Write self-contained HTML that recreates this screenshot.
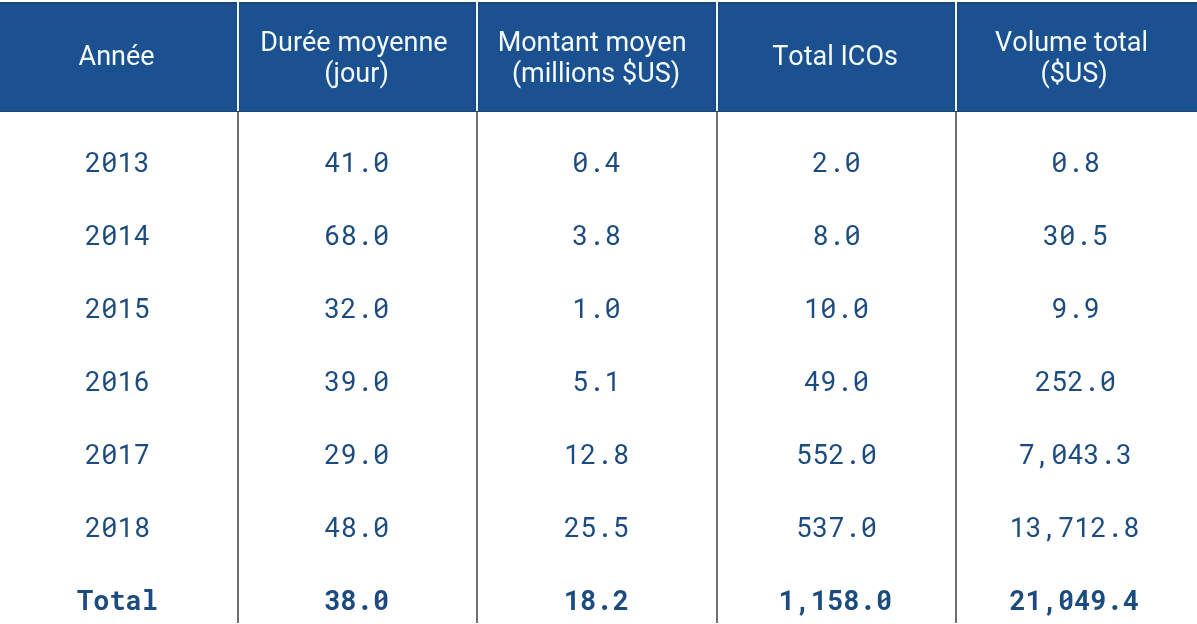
<!DOCTYPE html>
<html>
<head>
<meta charset="utf-8">
<style>
html,body{margin:0;padding:0;background:#fff;width:1197px;height:624px;overflow:hidden;}
.wrap{position:absolute;left:0;top:0;width:1197px;height:624px;background:#fff;will-change:transform;}
.hdr{position:absolute;left:0;top:2px;width:1197px;height:110px;background:#1b5190;border-top:2px solid #1c4774;border-bottom:1px solid #1c4774;box-sizing:border-box;}
.vl{position:absolute;width:2px;}
.vw{top:2px;height:109px;background:#e8faff;box-shadow:-1px 0 #204a72,1px 0 #204a72;}
.vd{top:112px;height:511px;background:#6f6f6f;}
.h{position:absolute;width:239px;height:31px;text-align:center;white-space:nowrap;font-family:"Roboto","Liberation Sans",sans-serif;font-size:27px;line-height:31px;font-kerning:none;color:#f4fbff;}
.row{position:absolute;left:0;width:1197px;height:30px;}
.c{position:absolute;top:0;width:239px;text-align:center;font-family:"Roboto Mono","Liberation Mono",monospace;font-size:27px;color:#1c4b80;line-height:30px;}
.b{font-weight:700;}
</style>
</head>
<body>
<div class="wrap">
<div class="hdr"></div>
<div class="h" style="left:-2.95px;top:41px">Année</div>
<div class="h" style="left:234.50px;top:26.5px">Durée moyenne</div>
<div class="h" style="left:237.05px;top:57.5px">(jour)</div>
<div class="h" style="left:472.60px;top:26.5px">Montant moyen</div>
<div class="h" style="left:476.50px;top:57.5px">(millions $US)</div>
<div class="h" style="left:715.55px;top:41px">Total ICOs</div>
<div class="h" style="left:952.10px;top:26.5px">Volume total</div>
<div class="h" style="left:954.60px;top:57.5px">($US)</div>

<div class="vl vw" style="left:237px"></div>
<div class="vl vw" style="left:476px"></div>
<div class="vl vw" style="left:716px"></div>
<div class="vl vw" style="left:955px"></div>
<div class="vl vd" style="left:237px"></div>
<div class="vl vd" style="left:476px"></div>
<div class="vl vd" style="left:716px"></div>
<div class="vl vd" style="left:955px"></div>

<div class="row" style="top:147.00px">
<div class="c" style="left:-2px">2013</div>
<div class="c" style="left:237.2px">41.0</div>
<div class="c" style="left:477px">0.4</div>
<div class="c" style="left:717px">2.0</div>
<div class="c" style="left:956px">0.8</div>
</div>
<div class="row" style="top:219.95px">
<div class="c" style="left:-2px">2014</div>
<div class="c" style="left:237.2px">68.0</div>
<div class="c" style="left:477px">3.8</div>
<div class="c" style="left:717px">8.0</div>
<div class="c" style="left:956px">30.5</div>
</div>
<div class="row" style="top:292.90px">
<div class="c" style="left:-2px">2015</div>
<div class="c" style="left:237.2px">32.0</div>
<div class="c" style="left:477px">1.0</div>
<div class="c" style="left:717px">10.0</div>
<div class="c" style="left:956px">9.9</div>
</div>
<div class="row" style="top:365.85px">
<div class="c" style="left:-2px">2016</div>
<div class="c" style="left:237.2px">39.0</div>
<div class="c" style="left:477px">5.1</div>
<div class="c" style="left:717px">49.0</div>
<div class="c" style="left:956px">252.0</div>
</div>
<div class="row" style="top:438.80px">
<div class="c" style="left:-2px">2017</div>
<div class="c" style="left:237.2px">29.0</div>
<div class="c" style="left:477px">12.8</div>
<div class="c" style="left:717px">552.0</div>
<div class="c" style="left:956px">7,043.3</div>
</div>
<div class="row" style="top:511.75px">
<div class="c" style="left:-2px">2018</div>
<div class="c" style="left:237.2px">48.0</div>
<div class="c" style="left:477px">25.5</div>
<div class="c" style="left:717px">537.0</div>
<div class="c" style="left:954.8px">13,712.8</div>
</div>
<div class="row" style="top:584.70px">
<div class="c b" style="left:-2px">Total</div>
<div class="c b" style="left:237.2px">38.0</div>
<div class="c b" style="left:477px">18.2</div>
<div class="c b" style="left:715.9px">1,158.0</div>
<div class="c b" style="left:954.8px">21,049.4</div>
</div>
</div>
</body>
</html>
